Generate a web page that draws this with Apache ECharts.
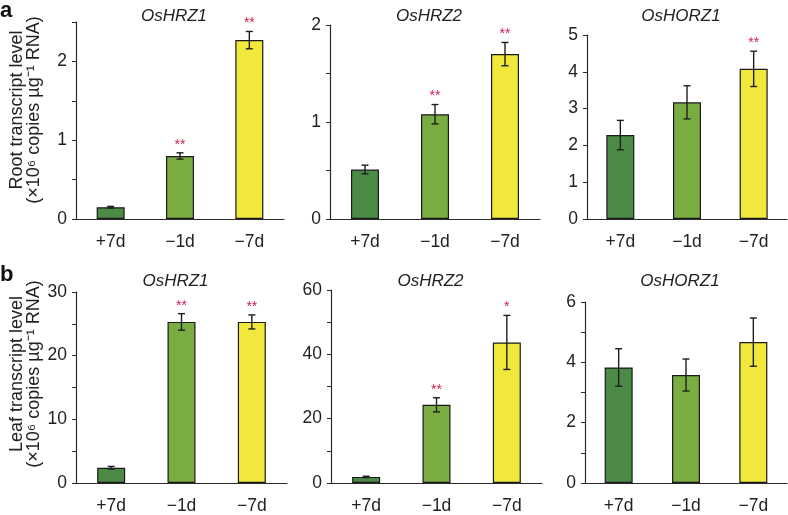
<!DOCTYPE html>
<html>
<head>
<meta charset="utf-8">
<script src="https://cdn.jsdelivr.net/npm/echarts@6/dist/echarts.min.js"></script>
<style>
  html, body { margin: 0; padding: 0; background: #fff; }
  #chart { width: 788px; height: 515px; }
</style>
</head>
<body>
<div id="chart"></div>
<script>
// --- data ---
const categories = ['+7d', '\u22121d', '\u22127d'];
const genes = ['OsHRZ1', 'OsHRZ2', 'OsHORZ1'];

const rootHRZ1 = [0.15, 0.80, 2.27];
const rootHRZ1Err = [0.01, 0.04, 0.11];
const rootHRZ1Sig = ['', '**', '**'];

const rootHRZ2 = [0.51, 1.08, 1.70];
const rootHRZ2Err = [0.045, 0.10, 0.12];
const rootHRZ2Sig = ['', '**', '**'];

const rootHORZ1 = [2.28, 3.17, 4.08];
const rootHORZ1Err = [0.40, 0.45, 0.48];
const rootHORZ1Sig = ['', '', '**'];

const leafHRZ1 = [2.4, 25.3, 25.3];
const leafHRZ1Err = [0.2, 1.3, 1.1];
const leafHRZ1Sig = ['', '**', '**'];

const leafHRZ2 = [1.9, 24.3, 43.7];
const leafHRZ2Err = [0.2, 2.2, 8.4];
const leafHRZ2Sig = ['', '**', '*'];

const leafHORZ1 = [3.83, 3.58, 4.67];
const leafHORZ1Err = [0.62, 0.53, 0.80];
const leafHORZ1Sig = ['', '', ''];

// y axis scales per panel
const yMax = [2.5, 2, 5, 30, 60, 6];
const yStep = [0.5, 0.5, 1, 5, 10, 1];
const yLabelEvery = [1, 1, 1, 10, 20, 2];

const panels = [
  [rootHRZ1, rootHRZ1Err, rootHRZ1Sig],
  [rootHRZ2, rootHRZ2Err, rootHRZ2Sig],
  [rootHORZ1, rootHORZ1Err, rootHORZ1Sig],
  [leafHRZ1, leafHRZ1Err, leafHRZ1Sig],
  [leafHRZ2, leafHRZ2Err, leafHRZ2Sig],
  [leafHORZ1, leafHORZ1Err, leafHORZ1Sig]
];

// --- layout ---
const grids = [
  { left: 76, top: 22, width: 208, height: 197 },
  { left: 330, top: 25, width: 210, height: 194 },
  { left: 587, top: 35, width: 200, height: 184 },
  { left: 76, top: 292, width: 211, height: 197 },
  { left: 331, top: 290, width: 211, height: 199 },
  { left: 585, top: 302, width: 202, height: 187 }
];
const barColors = ['#4b8b46', '#79ad41', '#f2e83b'];
const font = '"Liberation Sans", Arial, Helvetica, sans-serif';
const axisColor = '#2b2b2b';

const chart = echarts.init(document.getElementById('chart'));

const option = {
  animation: false,
  backgroundColor: '#fff',
  textStyle: { fontFamily: font },
  title: grids.map((g, i) => ({
    text: genes[i % 3],
    left: g.left + g.width / 2 - 6,
    top: i < 3 ? 8 : 273,
    padding: 0,
    textAlign: 'center',
    textStyle: { fontFamily: font, fontSize: 17, fontStyle: 'italic', fontWeight: 'normal', color: '#222' }
  })),
  grid: grids.map(g => Object.assign({ containLabel: false }, g)),
  xAxis: grids.map((g, i) => ({
    type: 'category',
    gridIndex: i,
    data: categories,
    axisLine: { lineStyle: { color: axisColor, width: 1.2 } },
    axisTick: { show: false },
    axisLabel: { color: '#222', fontSize: 17.5, margin: 14, fontFamily: font }
  })),
  yAxis: grids.map((g, i) => ({
    type: 'value',
    gridIndex: i,
    min: 0,
    max: yMax[i],
    interval: yStep[i],
    splitLine: { show: false },
    axisLine: { show: true, lineStyle: { color: axisColor, width: 1.2 } },
    axisTick: { show: true, length: 4, lineStyle: { color: axisColor } },
    axisLabel: {
      color: '#222', fontSize: 17.5, margin: 9, fontFamily: font,
      formatter: v => (Math.abs(v / yLabelEvery[i] - Math.round(v / yLabelEvery[i])) < 1e-6 ? String(v) : '')
    }
  })),
  graphic: [
    { type: 'text', x: 26, y: 110, rotation: Math.PI / 2,
      style: { text: 'Root transcript level\n(\u00d710\u2076 copies \u00b5g\u207b\u00b9 RNA)', font: '18px ' + font,
               fill: '#222', align: 'center', verticalAlign: 'middle', lineHeight: 17 } },
    { type: 'text', x: 26, y: 374, rotation: Math.PI / 2,
      style: { text: 'Leaf transcript level\n(\u00d710\u2076 copies \u00b5g\u207b\u00b9 RNA)', font: '18px ' + font,
               fill: '#222', align: 'center', verticalAlign: 'middle', lineHeight: 17 } },
    { type: 'text', x: 0, y: 0,
      style: { text: 'a', font: 'bold 22px ' + font, fill: '#111', align: 'left', verticalAlign: 'top' } },
    { type: 'text', x: 0, y: 264,
      style: { text: 'b', font: 'bold 22px ' + font, fill: '#111', align: 'left', verticalAlign: 'top' } }
  ],
  series: []
};

panels.forEach(([means, errs, sigs], i) => {
  option.series.push({
    type: 'bar',
    xAxisIndex: i,
    yAxisIndex: i,
    data: means,
    barWidth: 28,
    itemStyle: {
      color: p => barColors[p.dataIndex],
      borderColor: '#1a1a1a',
      borderWidth: 1.2
    }
  });
  option.series.push({
    type: 'custom',
    xAxisIndex: i,
    yAxisIndex: i,
    z: 5,
    data: means.map((m, k) => [k, m, errs[k]]),
    renderItem: (params, api) => {
      const k = api.value(0);
      const m = api.value(1);
      const e = api.value(2);
      const top = api.coord([k, m + e]);
      const bot = api.coord([k, m - e]);
      const cap = 3.5;
      const lineStyle = { stroke: '#1e1e1e', lineWidth: 1.4 };
      const children = [
        { type: 'line', shape: { x1: top[0], y1: top[1], x2: bot[0], y2: bot[1] }, style: lineStyle },
        { type: 'line', shape: { x1: top[0] - cap, y1: top[1], x2: top[0] + cap, y2: top[1] }, style: lineStyle },
        { type: 'line', shape: { x1: bot[0] - cap, y1: bot[1], x2: bot[0] + cap, y2: bot[1] }, style: lineStyle }
      ];
      const sig = sigs[params.dataIndex];
      if (sig) {
        children.push({
          type: 'text',
          x: top[0], y: top[1] - 1,
          style: { text: sig, font: '14px ' + font, fill: '#d0204a', align: 'center', verticalAlign: 'bottom' }
        });
      }
      return { type: 'group', children };
    }
  });
});

chart.setOption(option);
window.addEventListener('resize', () => chart.resize());
</script>
</body>
</html>
